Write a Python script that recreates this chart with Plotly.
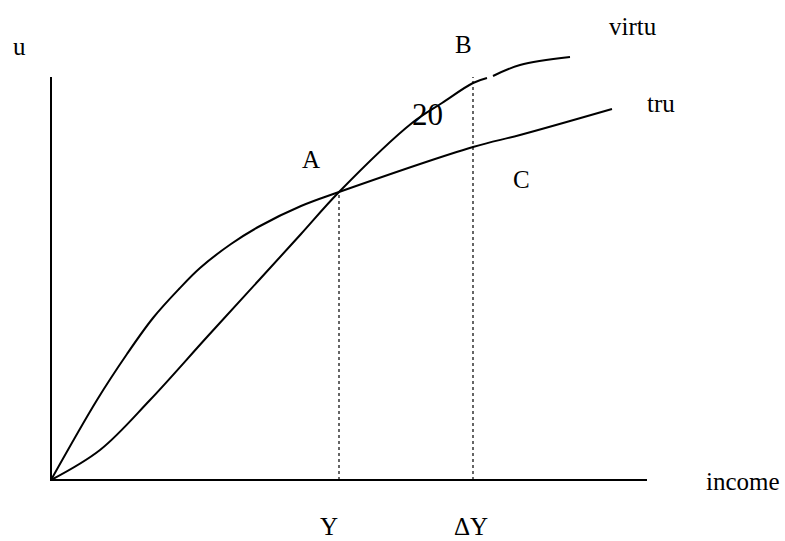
import plotly.graph_objects as go

# curves: income along x, utility up, origin at the axis corner
tru_income = [0, 46, 76, 102, 128, 149, 180, 209, 250, 288, 422, 469, 561]
tru_util = [0, 80, 126, 162, 191, 212, 236, 254, 274, 288, 333, 345, 371]

# the virtu curve has a small break near its top end
virtu_income = [0, 49, 99, 156, 209, 250, 288, 361, 391, 422, 436, None, 442, 469, 519]
virtu_util = [0, 30, 80, 143, 201, 246, 288, 357, 377, 397, 402, None, 404, 415, 423]

income_max = 596
util_max = 403

# dotted guides: Y up to A, dY up to the top
guide_income = [288, 422]
guide_top = [288, 403]

# label text, x, y, font size
labels = [
    ("u", -32, 434, 25),
    ("A", 260, 321, 25),
    ("B", 412, 436, 25),
    ("C", 470, 301, 25),
    ("20", 376, 366, 31),
    ("virtu", 582, 454, 25),
    ("tru", 610, 377, 25),
    ("income", 692, -1, 25),
    ("Y", 278, -46, 25),
    ("ΔY", 420, -46, 25),
]

fig = go.Figure()

# axes
fig.add_trace(go.Scatter(x=[0, 0, income_max], y=[util_max, 0, 0], mode="lines",
                         line=dict(color="black", width=2), hoverinfo="skip"))

for gx, gt in zip(guide_income, guide_top):
    fig.add_trace(go.Scatter(x=[gx, gx], y=[0, gt], mode="lines",
                             line=dict(color="black", width=1.2, dash="dot"), hoverinfo="skip"))

fig.add_trace(go.Scatter(x=tru_income, y=tru_util, mode="lines", name="tru",
                         line=dict(color="black", width=2, shape="spline", smoothing=1.0)))
fig.add_trace(go.Scatter(x=virtu_income, y=virtu_util, mode="lines", name="virtu",
                         connectgaps=False,
                         line=dict(color="black", width=2, shape="spline", smoothing=1.0)))

for txt, lx, ly, sz in labels:
    fig.add_annotation(x=lx, y=ly, text=txt, showarrow=False, xanchor="center", yanchor="middle",
                       font=dict(family="Liberation Serif", size=sz, color="black"))

fig.update_layout(width=785, height=541, margin=dict(l=0, r=0, t=0, b=0),
                  paper_bgcolor="white", plot_bgcolor="white", showlegend=False,
                  xaxis=dict(range=[-51, 734], visible=False, fixedrange=True),
                  yaxis=dict(range=[-61, 480], visible=False, fixedrange=True))

# drop the browser's default page margin so the figure sits at the corner
fig.write_html("out.html", config={"displayModeBar": False},
               post_script="document.body.style.margin='0';")
